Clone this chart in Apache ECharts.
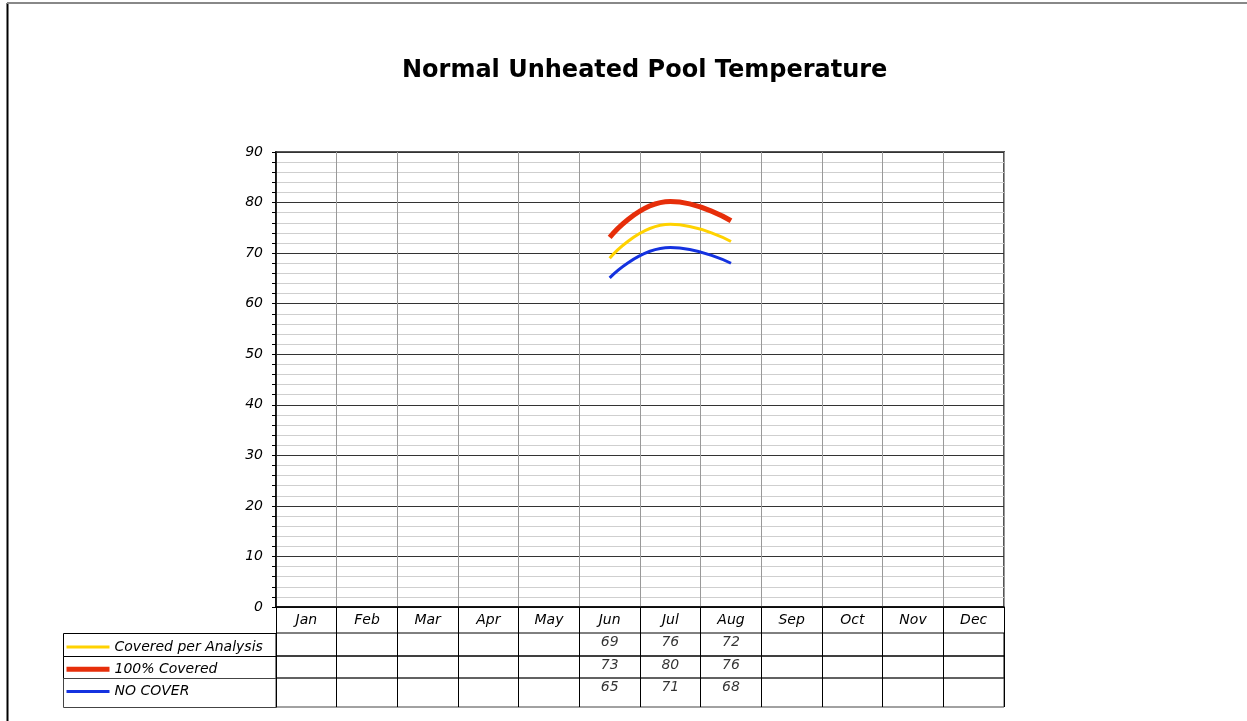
<!DOCTYPE html>
<html>
<head>
<meta charset="utf-8">
<script src="https://cdn.jsdelivr.net/npm/echarts@6/dist/echarts.min.js"></script>
<style>
  html, body { margin: 0; padding: 0; background: #fff; }
  #chart { width: 1247px; height: 721px; }
</style>
</head>
<body>
<div id="chart"></div>
<script>
// data
const months = ['Jan', 'Feb', 'Mar', 'Apr', 'May', 'Jun', 'Jul', 'Aug', 'Sep', 'Oct', 'Nov', 'Dec'];
const coveredAnalysis = [null, null, null, null, null, 69.0, 75.7, 72.3, null, null, null, null];
const fullyCovered = [null, null, null, null, null, 73.1, 80.2, 76.4, null, null, null, null];
const noCover = [null, null, null, null, null, 65.1, 71.1, 68.0, null, null, null, null];
const yTicks = [0, 10, 20, 30, 40, 50, 60, 70, 80, 90];

const FONT = 'DejaVu Sans';
const series = [
  { name: 'Covered per Analysis', data: coveredAnalysis, color: '#FFD200', width: 3 },
  { name: '100% Covered', data: fullyCovered, color: '#E62E0A', width: 5 },
  { name: 'NO COVER', data: noCover, color: '#1432E0', width: 3 },
];

// table rows under the plot (top, height, text nudge)
const rows = [
  { top: 633, height: 23, nudge: -2 },
  { top: 656, height: 22, nudge: -2 },
  { top: 678, height: 29, nudge: -5 },
];
const plotLeft = 276, plotRight = 1004;

const chart = echarts.init(document.getElementById('chart'));

const grids = [{ left: plotLeft, right: 1247 - plotRight, top: 152, bottom: 721 - 607, show: true, borderColor: '#555', borderWidth: 2, backgroundColor: 'transparent' }];
const xAxes = [{
  type: 'category', data: months, gridIndex: 0, boundaryGap: true,
  axisLine: { lineStyle: { color: '#000', width: 1.5 } },
  axisTick: { show: true, interval: 0, length: 26, lineStyle: { color: '#000' } },
  axisLabel: { interval: 0, margin: 6, color: '#000', fontFamily: FONT, fontStyle: 'italic', fontSize: 14 },
  splitLine: { show: true, interval: 0, lineStyle: { color: '#999', width: 1 } },
}];
const yAxes = [{
  type: 'value', gridIndex: 0, min: yTicks[0], max: yTicks[yTicks.length - 1], interval: 10,
  axisLine: { show: true, lineStyle: { color: '#000', width: 1.5 } },
  axisTick: { show: true, length: 4, lineStyle: { color: '#000' } },
  minorTick: { show: true, splitNumber: 5, length: 4, lineStyle: { color: '#000' } },
  axisLabel: { margin: 13, color: '#000', fontFamily: FONT, fontStyle: 'italic', fontSize: 14 },
  splitLine: { show: true, lineStyle: { color: '#333', width: 1 } },
  minorSplitLine: { show: true, lineStyle: { color: '#cfcfcf', width: 1 } },
}];

const seriesOpts = series.map((s) => ({
  name: s.name, type: 'line', xAxisIndex: 0, yAxisIndex: 0,
  data: s.data, smooth: true, symbol: 'none', color: s.color,
  lineStyle: { color: s.color, width: s.width },
}));

rows.forEach((r, i) => {
  const gi = i + 1;
  grids.push({ left: plotLeft, right: 1247 - plotRight, top: r.top, height: r.height, show: true, borderColor: i === 2 ? '#444' : '#000', borderWidth: 1, backgroundColor: 'transparent' });
  xAxes.push({
    type: 'category', data: months, gridIndex: gi, boundaryGap: true,
    axisLine: { show: false }, axisTick: { show: false }, axisLabel: { show: false },
    splitLine: { show: true, interval: 0, lineStyle: { color: '#000', width: 1 } },
  });
  yAxes.push({ type: 'value', gridIndex: gi, min: 0, max: 1, show: false, splitLine: { show: false } });
  seriesOpts.push({
    type: 'scatter', xAxisIndex: gi, yAxisIndex: gi, symbolSize: 0, silent: true,
    data: series[i].data.map((v, k) => (v == null ? null : [months[k], 0.5, Math.round(v)])).filter((d) => d),
    label: {
      show: true, position: 'inside', offset: [0, r.nudge],
      formatter: (p) => String(p.value[2]),
      color: '#000', fontFamily: FONT, fontStyle: 'italic', fontSize: 14,
    },
  });
});

// legend cells on the left of the table
const graphics = rows.map((r, i) => ({
  type: 'rect', z: 0,
  shape: { x: 63.5, y: r.top + 0.5, width: plotLeft - 63, height: r.height },
  style: { fill: 'none', stroke: i === 2 ? '#444' : '#000', lineWidth: 1 },
}));
graphics.push({ type: 'line', shape: { x1: 7.5, y1: 3, x2: 7.5, y2: 721 }, style: { stroke: '#000', lineWidth: 2 } });
graphics.push({ type: 'line', shape: { x1: 7, y1: 3, x2: 1247, y2: 3 }, style: { stroke: '#888', lineWidth: 2 } });

chart.setOption({
  animation: false,
  backgroundColor: '#fff',
  title: {
    text: 'Normal Unheated Pool Temperature', left: 402, top: 59, padding: 0,
    textStyle: { fontFamily: FONT, fontWeight: 'bold', fontSize: 24, color: '#000' },
  },
  legend: {
    orient: 'vertical', left: 64, top: 640, padding: 0,
    itemWidth: 43, itemHeight: 14, itemGap: 8.3,
    itemStyle: { opacity: 0 },
    lineStyle: { width: 'inherit' },
    data: series.map((s) => s.name),
    textStyle: { fontFamily: FONT, fontStyle: 'italic', fontSize: 14, color: '#000' },
  },
  grid: grids,
  xAxis: xAxes,
  yAxis: yAxes,
  series: seriesOpts,
  graphic: graphics,
});
</script>
</body>
</html>
